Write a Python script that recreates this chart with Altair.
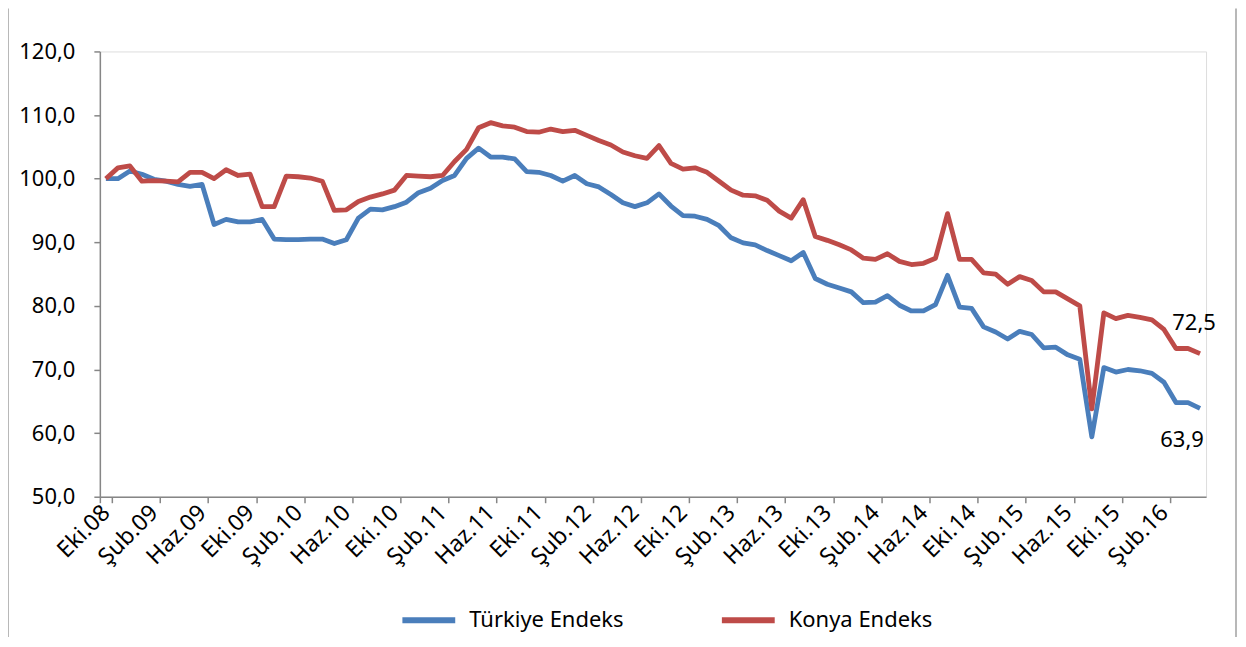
import altair as alt
import pandas as pd

months_tr = ["Oca", "Şub", "Mar", "Nis", "May", "Haz", "Tem", "Ağu", "Eyl", "Eki", "Kas", "Ara"]
periods = []
for k in range(92):
    m = (9 + k) % 12
    yy = 8 + (9 + k) // 12
    periods.append(f"{months_tr[m]}.{yy:02d}")

turkiye = [100.0, 100.0, 101.2, 100.7, 99.9, 99.6, 99.1, 98.8, 99.1, 92.8,
           93.6, 93.2, 93.2, 93.6, 90.5, 90.4, 90.4, 90.5, 90.5, 89.8,
           90.4, 93.8, 95.2, 95.1, 95.6, 96.3, 97.8, 98.5, 99.7, 100.5,
           103.2, 104.8, 103.4, 103.4, 103.1, 101.1, 101.0, 100.5, 99.6, 100.5,
           99.2, 98.7, 97.5, 96.2, 95.6, 96.2, 97.6, 95.7, 94.2, 94.1,
           93.6, 92.6, 90.7, 89.9, 89.6, 88.7, 87.9, 87.1, 88.4, 84.3,
           83.4, 82.8, 82.2, 80.5, 80.6, 81.6, 80.1, 79.2, 79.2, 80.2,
           84.8, 79.8, 79.6, 76.7, 75.9, 74.8, 76.0, 75.5, 73.4, 73.5,
           72.3, 71.6, 59.4, 70.3, 69.6, 70.0, 69.8, 69.4, 68.0, 64.8,
           64.8, 63.9]

konya = [100.0, 101.7, 102.0, 99.6, 99.7, 99.6, 99.5, 101.0, 101.0, 100.0,
         101.4, 100.5, 100.7, 95.6, 95.6, 100.4, 100.3, 100.1, 99.6, 95.0,
         95.1, 96.4, 97.1, 97.6, 98.2, 100.5, 100.4, 100.3, 100.5, 102.7,
         104.6, 108.0, 108.8, 108.3, 108.1, 107.4, 107.3, 107.8, 107.4, 107.6,
         106.8, 106.0, 105.3, 104.2, 103.6, 103.2, 105.2, 102.4, 101.5, 101.7,
         101.0, 99.6, 98.2, 97.4, 97.3, 96.6, 94.9, 93.8, 96.7, 90.9,
         90.3, 89.6, 88.8, 87.5, 87.3, 88.2, 87.0, 86.5, 86.7, 87.5,
         94.5, 87.3, 87.3, 85.2, 85.0, 83.4, 84.6, 84.0, 82.2, 82.2,
         81.1, 80.0, 63.8, 78.9, 78.0, 78.5, 78.2, 77.8, 76.3, 73.3,
         73.3, 72.5]

series_names = ["Türkiye Endeks", "Konya Endeks"]
series_colors = ["#4A7EBB", "#BE4B48"]
y_ticks = [50, 60, 70, 80, 90, 100, 110, 120]
x_tick_labels = periods[::4]

FONT = "Noto Sans"
GRAY = "#868686"

df = pd.DataFrame({
    "Dönem": periods + periods,
    "Endeks": turkiye + konya,
    "Seri": [series_names[0]] * len(periods) + [series_names[1]] * len(periods),
})

x_enc = alt.X(
    "Dönem:N", sort=periods, bandPosition=0.5,
    scale=alt.Scale(type="band", paddingInner=0, paddingOuter=0),
    axis=alt.Axis(values=x_tick_labels, labelAngle=-45, labelAlign="right",
                  labelBaseline="middle", labelFontSize=23, labelColor="#000",
                  labelFont=FONT, tickBand="extent", tickSize=6, tickColor=GRAY,
                  tickWidth=1.5, domainColor=GRAY, domainWidth=1.5,
                  labelPadding=6, labelOverlap=False, title=None),
)
y_enc = alt.Y(
    "Endeks:Q",
    scale=alt.Scale(domain=[50, 120], nice=False, zero=False),
    axis=alt.Axis(values=y_ticks, grid=False, tickSize=6, tickColor=GRAY, tickWidth=1.5,
                  domainColor=GRAY, domainWidth=1.5, labelPadding=19,
                  labelFontSize=22, labelFont=FONT, labelColor="#000",
                  labelExpr="replace(format(datum.value, '.1f'), '.', ',')", title=None),
)

lines = alt.Chart(df).mark_line(strokeWidth=4.8, strokeJoin="round").encode(
    x=x_enc,
    y=y_enc,
    color=alt.Color("Seri:N", sort=series_names,
                    scale=alt.Scale(domain=series_names, range=series_colors),
                    legend=alt.Legend(orient="none", legendX=300, legendY=540,
                                      direction="horizontal", title=None,
                                      symbolType="stroke", symbolSize=2800,
                                      symbolStrokeWidth=6, labelFontSize=22,
                                      labelFont=FONT, labelColor="#000",
                                      labelOffset=11, columnPadding=86,
                                      labelLimit=0, padding=0)),
)

end_df = pd.DataFrame({
    "Dönem": [periods[-1], periods[-1]],
    "Endeks": [konya[-1], turkiye[-1]],
    "etiket": [f"{konya[-1]:.1f}".replace(".", ","), f"{turkiye[-1]:.1f}".replace(".", ",")],
})

lbl_k = alt.Chart(end_df.iloc[[0]]).mark_text(
    fontSize=22, font=FONT, color="#000", dx=-6, dy=-31
).encode(x=alt.X("Dönem:N", sort=periods, bandPosition=0.5), y="Endeks:Q", text="etiket:N")
lbl_t = alt.Chart(end_df.iloc[[1]]).mark_text(
    fontSize=22, font=FONT, color="#000", dx=-18, dy=32
).encode(x=alt.X("Dönem:N", sort=periods, bandPosition=0.5), y="Endeks:Q", text="etiket:N")

frame_df = pd.DataFrame({"k": [0]})
frame_l = alt.Chart(frame_df).mark_rule(color="#A0A0A0", strokeWidth=1.5).encode(
    x=alt.value(-92), y=alt.value(-43), y2=alt.value(590))
frame_r = alt.Chart(frame_df).mark_rule(color="#A0A0A0", strokeWidth=1.5).encode(
    x=alt.value(1138), y=alt.value(-43), y2=alt.value(590))

chart = alt.layer(lines, lbl_k, lbl_t, frame_l, frame_r).properties(
    width=1108, height=446,
    autosize=alt.AutoSizeParams(type="none"),
    padding={"left": 92, "top": 43, "right": 32, "bottom": 140},
).configure_view(stroke=None).configure(font=FONT)

chart.save("out.html", embed_options={"renderer": "svg", "actions": False})
